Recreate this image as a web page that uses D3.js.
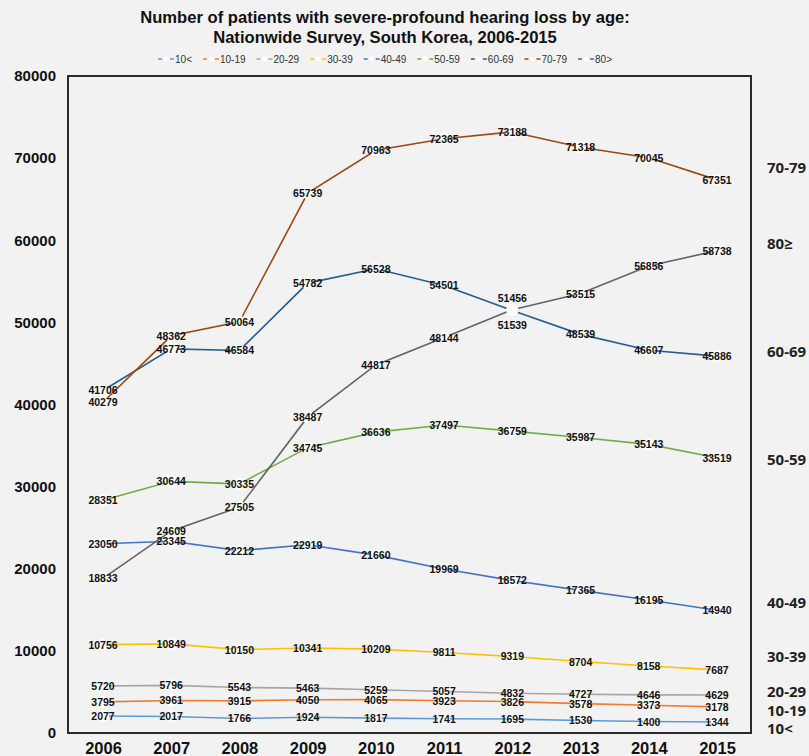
<!DOCTYPE html>
<html><head><meta charset="utf-8">
<script src="https://cdn.jsdelivr.net/npm/d3@7/dist/d3.min.js"></script>
<style>
html,body{margin:0;padding:0;background:#f2f2f2;}
svg{display:block;font-family:"Liberation Sans",Arial,sans-serif;}
</style></head>
<body><svg id="c" width="809" height="756"></svg>
<script>
const years = [2006,2007,2008,2009,2010,2011,2012,2013,2014,2015];
const seriesNames = ["10<","10-19","20-29","30-39","40-49","50-59","60-69","70-79","80>"];
const sideLabels = ["10<","10-19","20-29","30-39","40-49","50-59","60-69","70-79","80≥"];
const sideLabelValues = [500,2700,5000,9250,15800,33200,46350,68800,59600];
const colors = ["#5b9bd5","#ed7d31","#a5a5a5","#ffc000","#4472c4","#70ad47","#255e91","#9e480e","#636363"];
const v10 = [2077,2017,1766,1924,1817,1741,1695,1530,1400,1344];
const v10_19 = [3795,3961,3915,4050,4065,3923,3826,3578,3373,3178];
const v20_29 = [5720,5796,5543,5463,5259,5057,4832,4727,4646,4629];
const v30_39 = [10756,10849,10150,10341,10209,9811,9319,8704,8158,7687];
const v40_49 = [23050,23345,22212,22919,21660,19969,18572,17365,16195,14940];
const v50_59 = [28351,30644,30335,34745,36636,37497,36759,35987,35143,33519];
const v60_69 = [41706,46773,46584,54782,56528,54501,51456,48539,46607,45886];
const v70_79 = [40279,48362,50064,65739,70963,72365,73188,71318,70045,67351];
const v80 = [18833,24609,27505,38487,44817,48144,51539,53515,56856,58738];
const yTicks = [0,10000,20000,30000,40000,50000,60000,70000,80000];
const values = [v10,v10_19,v20_29,v30_39,v40_49,v50_59,v60_69,v70_79,v80];

const svg = d3.select("#c");
const L = 68, R = 751, T = 76, B = 733;
const x = d3.scalePoint().domain(years).range([103,717]);
const y = d3.scaleLinear().domain([0,80000]).range([B,T]);

// title
const title = svg.append("text").attr("x",385).attr("text-anchor","middle")
  .attr("font-weight","bold").attr("font-size",16.6).attr("fill","#111");
title.append("tspan").attr("x",385).attr("y",23).text("Number of patients with severe-profound hearing loss by age:");
title.append("tspan").attr("x",385).attr("y",43).text("Nationwide Survey, South Korea, 2006-2015");

// legend
const lg = svg.append("g");
let lx = 0;
seriesNames.forEach((n,i)=>{
  const g = lg.append("g").attr("transform",`translate(${lx},0)`);
  g.append("line").attr("x1",0).attr("x2",16).attr("y1",0).attr("y2",0)
    .attr("stroke",colors[i]).attr("stroke-width",1.5).attr("stroke-dasharray","4,2");
  g.append("circle").attr("cx",8).attr("cy",0).attr("r",2.5).attr("fill","#fff");
  const t = g.append("text").attr("x",17).attr("y",3.5).attr("font-size",10).attr("fill","#333").text(n);
  lx += 17 + t.node().getComputedTextLength() + 11;
});
lg.attr("transform",`translate(${385 - (lx-11)/2},59)`);

// frame
svg.append("rect").attr("x",L).attr("y",T).attr("width",R-L).attr("height",B-T)
  .attr("fill","#f2f2f2").attr("stroke","#2b2b2b").attr("stroke-width",2);

// y axis
const ya = svg.append("g").attr("transform",`translate(56,0)`)
  .call(d3.axisLeft(y).tickValues(yTicks).tickSize(0).tickPadding(0).tickFormat(d3.format("d")));
ya.select(".domain").remove();
ya.selectAll("text").attr("font-size",15).attr("font-weight","bold").attr("fill","#111")
  .attr("font-family","Liberation Sans, Arial, sans-serif");

// x axis
const xa = svg.append("g").attr("transform",`translate(0,742)`)
  .call(d3.axisBottom(x).tickSize(0).tickPadding(0).tickFormat(d3.format("d")));
xa.select(".domain").remove();
xa.selectAll("text").attr("font-size",16.5).attr("font-weight","bold").attr("fill","#111")
  .attr("font-family","Liberation Sans, Arial, sans-serif");

// lines
const line = d3.line().x((d,i)=>x(years[i])).y(d=>y(d));
values.forEach((vals,si)=>{
  svg.append("path").datum(vals).attr("d",line).attr("fill","none")
    .attr("stroke",colors[si]).attr("stroke-width",1.6);
});
// markers
values.forEach((vals,si)=>{
  svg.append("g").selectAll("circle").data(vals).join("circle")
    .attr("cx",(d,i)=>x(years[i])).attr("cy",d=>y(d)).attr("r",6).attr("fill","#fff");
});
// labels
const nudge = (si,i)=> (years[i]===2012 && seriesNames[si]==="60-69") ? -12 :
                       (years[i]===2012 && seriesNames[si]==="80>") ? 15 : 0;
values.forEach((vals,si)=>{
  svg.append("g").selectAll("text").data(vals).join("text")
    .attr("x",(d,i)=>x(years[i])).attr("y",(d,i)=>y(d)+4+nudge(si,i))
    .attr("text-anchor","middle").attr("font-size",10.5).attr("font-weight","bold")
    .attr("fill","#111").text(d=>d);
});

// side labels
svg.append("g").selectAll("text").data(sideLabels).join("text")
  .attr("x",767).attr("y",(d,i)=>y(sideLabelValues[i])+5)
  .attr("font-size",15).attr("font-weight","bold").attr("fill","#222")
  .attr("font-family","Open Sans, sans-serif").text(d=>d);
</script></body></html>
